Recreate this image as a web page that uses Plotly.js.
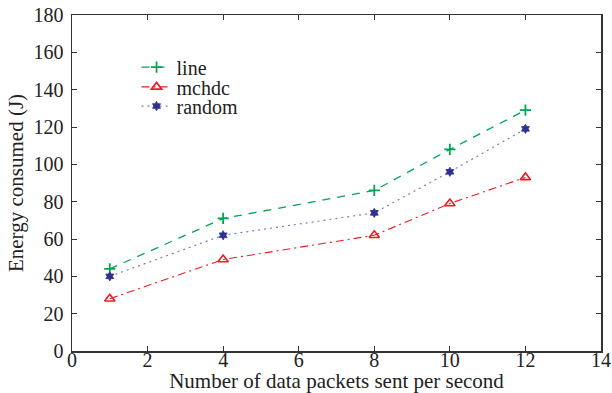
<!DOCTYPE html>
<html>
<head>
<meta charset="utf-8">
<script src="https://cdn.plot.ly/plotly-3.0.1.min.js"></script>
<style>html,body{margin:0;padding:0;background:#fff;}#chart{width:612px;height:393px;}</style>
</head>
<body>
<div id="chart"></div>
<script>
const xValues = [1, 4, 8, 10, 12];
const lineValues = [44, 71, 86, 108, 129];
const mchdcValues = [28, 49, 62, 79, 93];
const randomValues = [40, 62, 74, 96, 119];
const seriesNames = ["line", "mchdc", "random"];

const font = "Liberation Serif";
const tickSize = 20;
const titleSize = 21;
const legendSize = 20;

const traces = [
  {
    x: xValues, y: lineValues, name: seriesNames[0], type: "scatter", mode: "lines+markers", legend: "legend",
    line: {color: "#00a651", width: 1.3, dash: "8px,7px"},
    marker: {symbol: "cross-thin-open", size: 8, line: {color: "#00a651", width: 1.8}}
  },
  {
    x: xValues, y: mchdcValues, name: seriesNames[1], type: "scatter", mode: "lines+markers", legend: "legend2",
    line: {color: "#ed1c24", width: 1.1, dash: "8px,4px,2px,4px"},
    marker: {symbol: "triangle-up-open", size: 9, color: "#ed1c24", line: {color: "#ed1c24", width: 1.6}}
  },
  {
    x: xValues, y: randomValues, name: seriesNames[2], type: "scatter", mode: "lines+markers", legend: "legend3",
    line: {color: "#7a7cc0", width: 1.2, dash: "2px,4px"},
    marker: {symbol: "hexagram", size: 7, color: "#2e3192", line: {color: "#2e3192", width: 0.8}}
  }
];

const axisCommon = {
  showline: true, linecolor: "#333", linewidth: 1.5, mirror: "ticks",
  ticks: "inside", ticklen: 5, tickcolor: "#333", tickwidth: 1,
  showgrid: false, zeroline: false,
  tickfont: {family: font, size: tickSize, color: "#222"}
};

function legendAt(y) {
  return {
    x: 0.122, y: y, xanchor: "left", yanchor: "middle",
    bgcolor: "rgba(0,0,0,0)", borderwidth: 0,
    font: {family: font, size: legendSize, color: "#222"}
  };
}

const layout = {
  width: 612, height: 393,
  margin: {l: 72, r: 11, t: 15, b: 42},
  paper_bgcolor: "#fff", plot_bgcolor: "#fff",
  showlegend: true,
  legend: legendAt(0.845),
  legend2: legendAt(0.786),
  legend3: legendAt(0.729),
  xaxis: Object.assign({}, axisCommon, {
    range: [0, 14], dtick: 2, tick0: 0, ticklabelstandoff: -10,
    title: {text: "Number of data packets sent per second", font: {family: font, size: titleSize, color: "#222"}, standoff: 4}
  }),
  yaxis: Object.assign({}, axisCommon, {
    range: [0, 180], dtick: 20, tick0: 0, ticklabelstandoff: 3,
    title: {text: "Energy consumed (J)", font: {family: font, size: titleSize, color: "#222"}, standoff: 4}
  })
};

Plotly.newPlot("chart", traces, layout, {displayModeBar: false, staticPlot: true});
</script>
</body>
</html>
